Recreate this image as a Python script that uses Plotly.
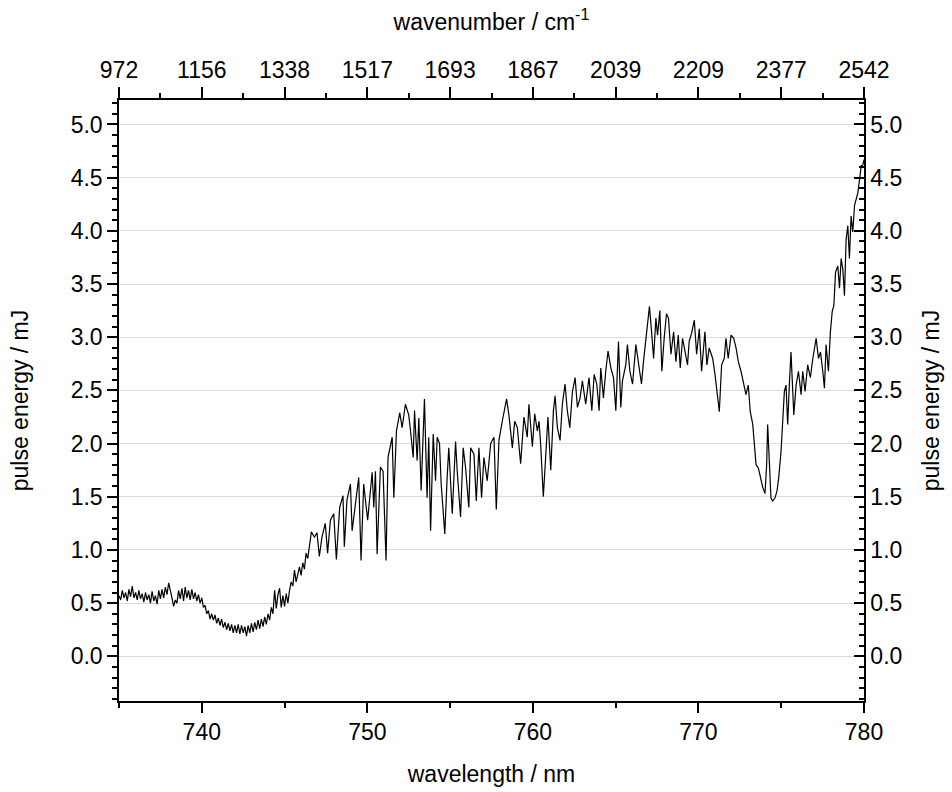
import plotly.graph_objects as go

# wavelength (nm) and pulse energy (mJ)
wavelength = [
    735.0, 735.1, 735.2, 735.3, 735.4, 735.5, 735.6, 735.7, 735.8, 735.9,
    736.0, 736.1, 736.2, 736.3, 736.4, 736.5, 736.6, 736.7, 736.8, 736.9,
    737.0, 737.1, 737.2, 737.3, 737.4, 737.5, 737.6, 737.7, 737.8, 737.9,
    738.0, 738.1, 738.2, 738.3, 738.4, 738.5, 738.6, 738.7, 738.8, 738.9,
    739.0, 739.1, 739.2, 739.3, 739.4, 739.5, 739.6, 739.7, 739.8, 739.9,
    740.0, 740.1, 740.2, 740.3, 740.4, 740.5, 740.6, 740.7, 740.8, 740.9,
    741.0, 741.1, 741.2, 741.3, 741.4, 741.5, 741.6, 741.7, 741.8, 741.9,
    742.0, 742.1, 742.2, 742.3, 742.4, 742.5, 742.6, 742.7, 742.8, 742.9,
    743.0, 743.1, 743.2, 743.3, 743.4, 743.5, 743.6, 743.7, 743.8, 743.9,
    744.0, 744.1, 744.2, 744.3, 744.4, 744.5, 744.6, 744.7, 744.8, 744.9,
    745.0, 745.1, 745.2, 745.3, 745.4, 745.5, 745.6, 745.7, 745.8, 745.9,
    746.0, 746.1, 746.2, 746.3, 746.4, 746.5,
    746.62, 746.80, 746.96, 747.10, 747.26, 747.46, 747.60,
    747.77, 747.97, 748.13, 748.33, 748.53, 748.61, 748.77, 748.87, 748.98, 749.08,
    749.28, 749.48, 749.62, 749.78, 750.02, 750.19, 750.29, 750.39, 750.49, 750.59,
    750.79, 750.95, 751.13, 751.25, 751.35, 751.50, 751.60, 751.76, 751.96, 752.10,
    752.30, 752.50, 752.61, 752.77, 752.85, 753.01, 753.11, 753.25, 753.45, 753.61,
    753.71, 753.82, 753.98, 754.12, 754.22, 754.36, 754.46, 754.68, 754.82, 754.92,
    755.13, 755.33, 755.43, 755.63, 755.79, 755.93, 756.13, 756.24, 756.44, 756.58,
    756.74, 756.90, 757.04, 757.24, 757.45, 757.65, 757.79, 757.95, 758.15, 758.41,
    758.55, 758.76, 758.90, 759.06, 759.26, 759.46, 759.66, 759.76, 759.97, 760.11,
    760.27, 760.37, 760.47, 760.63, 760.77, 760.91, 761.08, 761.24, 761.34, 761.48,
    761.64, 761.78, 761.94, 762.08, 762.23, 762.39, 762.55, 762.69, 762.85, 762.99,
    763.19, 763.39, 763.56, 763.70, 763.86, 764.00, 764.10, 764.26, 764.40, 764.54,
    764.71, 764.87, 765.01, 765.17, 765.31, 765.41, 765.61, 765.71, 765.86, 766.02,
    766.22, 766.36, 766.56, 766.68, 766.82, 766.92, 767.04, 767.17, 767.29, 767.43,
    767.53, 767.67, 767.79, 767.93, 768.07, 768.19, 768.34, 768.50, 768.64, 768.78,
    768.90, 769.04, 769.18, 769.34, 769.44, 769.59, 769.75, 769.89, 770.05, 770.19,
    770.39, 770.51, 770.65, 770.86, 771.00, 771.16, 771.26, 771.40, 771.56, 771.66,
    771.80, 771.97, 772.13, 772.27, 772.41, 772.57, 772.73, 772.87, 773.01, 773.13,
    773.28, 773.38, 773.48, 773.62, 773.74, 773.88, 774.02, 774.12, 774.18, 774.28,
    774.38, 774.48, 774.63, 774.75, 774.85, 774.99, 775.09, 775.19, 775.29, 775.39,
    775.49, 775.59, 775.76, 775.90, 776.04, 776.20, 776.30, 776.44, 776.60, 776.76,
    776.91, 777.11, 777.25, 777.37, 777.51, 777.61, 777.71, 777.85, 777.97, 778.08,
    778.18, 778.28, 778.42, 778.52, 778.62, 778.72, 778.82, 778.92, 779.02, 779.12,
    779.22, 779.32, 779.43, 779.53, 779.63, 779.73, 779.83, 779.93, 780.00,
]
pulse_energy = [
    0.57, 0.53, 0.62, 0.55, 0.60, 0.52, 0.63, 0.56, 0.66, 0.55,
    0.60, 0.53, 0.62, 0.54, 0.59, 0.51, 0.60, 0.53, 0.58, 0.50,
    0.61, 0.52, 0.57, 0.49, 0.62, 0.54, 0.63, 0.55, 0.65, 0.58,
    0.69, 0.60, 0.55, 0.47, 0.53, 0.50, 0.62, 0.54, 0.64, 0.52,
    0.65, 0.55, 0.62, 0.53, 0.63, 0.54, 0.60, 0.52, 0.58, 0.50,
    0.55, 0.46, 0.48, 0.40, 0.43, 0.35, 0.40, 0.34, 0.39, 0.31,
    0.36, 0.29, 0.35, 0.27, 0.32, 0.25, 0.31, 0.24, 0.30, 0.22,
    0.29, 0.22, 0.30, 0.21, 0.29, 0.22, 0.28, 0.19, 0.29, 0.22,
    0.31, 0.23, 0.32, 0.25, 0.34, 0.26, 0.35, 0.28, 0.37, 0.30,
    0.40, 0.34, 0.46, 0.40, 0.62, 0.45, 0.58, 0.64, 0.46, 0.57,
    0.47, 0.59, 0.50, 0.62, 0.70, 0.66, 0.81, 0.70, 0.78, 0.84,
    0.76, 0.88, 0.82, 0.97, 0.92, 1.03,
    1.17, 1.12, 1.16, 0.94, 1.12, 1.25, 0.97,
    1.28, 1.34, 0.91, 1.40, 1.51, 1.03, 1.47, 1.56, 1.62, 1.18,
    1.46, 1.68, 0.90, 1.62, 1.28, 1.56, 1.73, 1.40, 1.74, 0.96,
    1.78, 1.74, 0.90, 1.87, 1.96, 2.06, 1.49, 2.12, 2.29, 2.15,
    2.37, 2.27, 2.12, 1.87, 2.31, 1.84, 2.24, 1.56, 2.42, 1.49,
    2.06, 1.18, 2.09, 1.65, 2.06, 2.00, 1.62, 1.15, 1.68, 1.96,
    1.34, 2.02, 1.74, 1.31, 1.96, 1.78, 1.40, 1.96, 1.90, 1.46,
    1.96, 1.49, 1.87, 1.65, 2.00, 2.06, 1.38, 2.03, 2.21, 2.42,
    2.27, 1.96, 2.21, 2.15, 1.81, 2.25, 2.06, 2.37, 1.97, 2.28,
    2.12, 2.21, 1.99, 1.50, 1.87, 2.25, 1.75, 2.31, 2.45, 2.15,
    2.03, 2.37, 2.56, 2.31, 2.15, 2.49, 2.62, 2.34, 2.43, 2.59,
    2.37, 2.62, 2.31, 2.65, 2.56, 2.31, 2.71, 2.43, 2.68, 2.87,
    2.71, 2.62, 2.31, 2.96, 2.34, 2.59, 2.74, 2.93, 2.68, 2.56,
    2.93, 2.77, 2.56, 2.77, 2.99, 3.15, 3.29, 3.05, 2.80, 3.18,
    3.02, 3.25, 2.68, 2.99, 3.22, 3.18, 2.84, 3.05, 2.77, 3.02,
    2.71, 2.99, 2.87, 2.74, 2.96, 3.04, 3.16, 2.84, 3.08, 2.68,
    3.05, 2.74, 2.90, 2.80, 2.65, 2.43, 2.30, 2.74, 2.80, 2.99,
    2.80, 3.02, 2.99, 2.90, 2.77, 2.68, 2.55, 2.46, 2.55, 2.30,
    2.18, 1.96, 1.80, 1.77, 1.68, 1.59, 1.53, 1.80, 2.18, 1.80,
    1.49, 1.46, 1.49, 1.56, 1.68, 1.93, 2.18, 2.49, 2.55, 2.18,
    2.55, 2.86, 2.27, 2.55, 2.68, 2.46, 2.68, 2.49, 2.74, 2.62,
    2.80, 2.99, 2.80, 2.86, 2.68, 2.52, 2.93, 2.68, 3.05, 3.24,
    3.30, 3.61, 3.67, 3.46, 3.74, 3.64, 3.39, 3.92, 4.05, 3.74,
    4.14, 3.99, 4.24, 4.30, 4.36, 4.48, 4.61, 4.62, 4.67,
]

# top axis: wavenumber labels at the wavelength tick positions
top_tick_wavelengths = [735, 740, 745, 750, 755, 760, 765, 770, 775, 780]
top_tick_labels = ["972", "1156", "1338", "1517", "1693", "1867", "2039", "2209", "2377", "2542"]

FONT = "Arial, Liberation Sans, sans-serif"
FS = 23

fig = go.Figure()
fig.add_trace(go.Scatter(x=wavelength, y=pulse_energy, mode="lines",
                         line=dict(color="black", width=1.2), showlegend=False,
                         hoverinfo="x+y"))
fig.add_trace(go.Scatter(x=[None], y=[None], xaxis="x2", yaxis="y2",
                         mode="lines", showlegend=False, hoverinfo="skip"))

axis_common = dict(showline=True, linecolor="black", linewidth=1.5,
                   tickcolor="black", tickwidth=1.5,
                   tickfont=dict(family=FONT, size=FS, color="black"),
                   zeroline=False, automargin=False)

fig.update_layout(
    width=952, height=792,
    margin=dict(l=119, r=88, t=100, b=91),
    paper_bgcolor="white", plot_bgcolor="white",
    font=dict(family=FONT, size=FS, color="black"),
    xaxis=dict(**axis_common, range=[735, 780], tickmode="linear", tick0=740, dtick=10,
               ticks="outside", ticklen=10, showgrid=False,
               minor=dict(ticks="outside", ticklen=5, tick0=735, dtick=5,
                          tickcolor="black", tickwidth=1.5),
               title=dict(text="wavelength / nm", standoff=22,
                          font=dict(family=FONT, size=FS, color="black"))),
    xaxis2=dict(**axis_common, range=[735, 780], overlaying="x", side="top",
                tickmode="array", tickvals=top_tick_wavelengths, ticktext=top_tick_labels,
                ticks="outside", ticklen=11, showgrid=False,
                minor=dict(ticks="outside", ticklen=5, tick0=735, dtick=2.5,
                           tickcolor="black", tickwidth=1.5),
                title=dict(text="wavenumber / cm<sup>-1</sup>", standoff=20,
                           font=dict(family=FONT, size=FS, color="black"))),
    yaxis=dict(**axis_common, range=[-0.42, 5.23], tickmode="linear", tick0=0, dtick=0.5,
               tickformat=".1f", ticks="outside", ticklen=10,
               showgrid=True, gridcolor="#dadada", gridwidth=1,
               minor=dict(ticks="outside", ticklen=5, tick0=0, dtick=0.1,
                          tickcolor="black", tickwidth=1.5, showgrid=False),
               title=dict(text="pulse energy / mJ", standoff=36,
                          font=dict(family=FONT, size=FS, color="black"))),
    yaxis2=dict(**axis_common, range=[-0.42, 5.23], overlaying="y", side="right",
                tickmode="linear", tick0=0, dtick=0.5, tickformat=".1f",
                ticks="inside", ticklen=10, showgrid=False,
                minor=dict(ticks="inside", ticklen=5, tick0=0, dtick=0.1,
                           tickcolor="black", tickwidth=1.5, showgrid=False),
                title=dict(text="pulse energy / mJ", standoff=22,
                           font=dict(family=FONT, size=FS, color="black"))),
)

fig.write_html("out.html")
